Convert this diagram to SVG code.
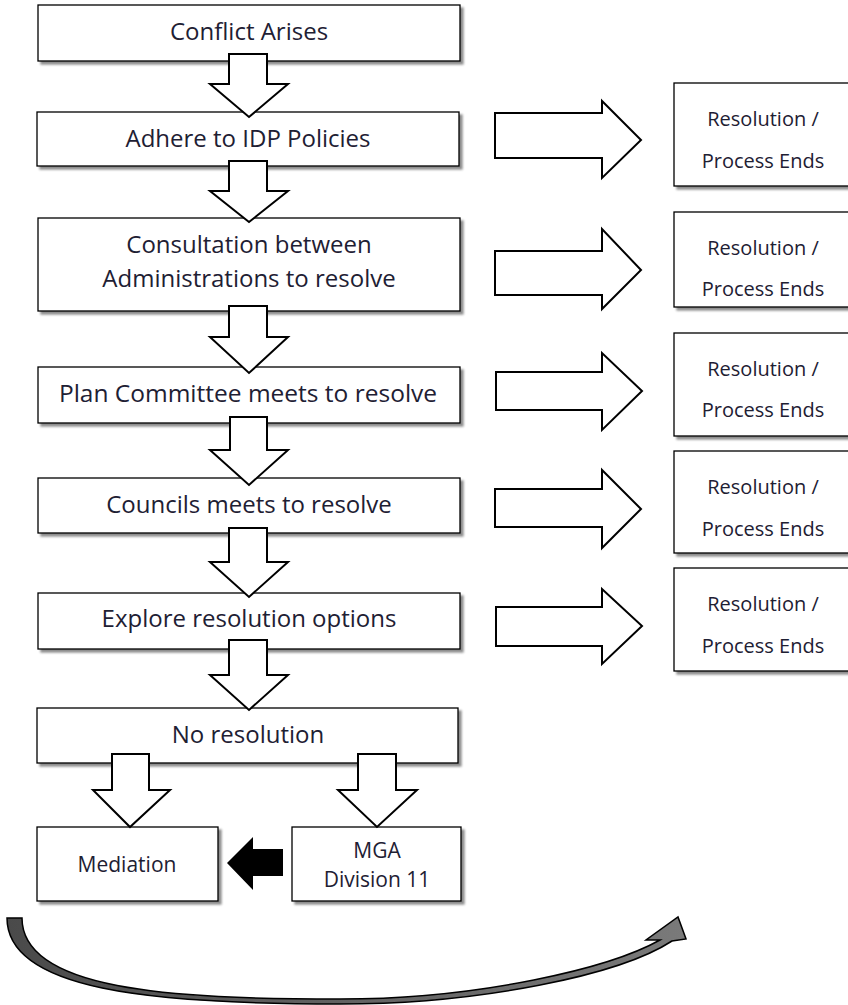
<svg xmlns="http://www.w3.org/2000/svg" width="848" height="1005" viewBox="0 0 848 1005">
<style>
.box{fill:#fff;stroke:#000;stroke-width:1.3;filter:url(#sh)}
.t{font-family:"Open Sans","Liberation Sans",sans-serif;font-size:24px;fill:#1e2033;text-anchor:middle}
.s{font-family:"Open Sans","Liberation Sans",sans-serif;font-size:20px;fill:#1e2033;text-anchor:middle}
.m{font-family:"Open Sans","Liberation Sans",sans-serif;font-size:21px;fill:#1e2033;text-anchor:middle}
.ar{fill:#fff;stroke:#000;stroke-width:2;stroke-linejoin:miter}
</style>
<defs>
<filter id="sh" x="-5%" y="-10%" width="115%" height="130%">
<feDropShadow dx="3" dy="3" stdDeviation="1" flood-color="#000" flood-opacity="0.45"/>
</filter>
<linearGradient id="cg" x1="0" y1="0" x2="1" y2="0">
<stop offset="0" stop-color="#4a4a4a"/>
<stop offset="1" stop-color="#7a7a7a"/>
</linearGradient>
</defs>

<g id="n1"><rect class="box" x="38" y="5" width="422" height="56"/><text class="t" x="249" y="40">Conflict Arises</text></g>
<g id="n2"><rect class="box" x="37" y="112" width="422" height="54"/><text class="t" x="248" y="147">Adhere to IDP Policies</text></g>
<g id="n3"><rect class="box" x="38" y="218" width="422" height="93"/><text class="t" x="249" y="253">Consultation between</text><text class="t" x="249" y="287">Administrations to resolve</text></g>
<g id="n4"><rect class="box" x="38" y="367" width="422" height="56"/><text class="t" x="248" y="402" style="font-size:24.5px">Plan Committee meets to resolve</text></g>
<g id="n5"><rect class="box" x="38" y="478" width="422" height="55"/><text class="t" x="249" y="513">Councils meets to resolve</text></g>
<g id="n6"><rect class="box" x="38" y="593" width="422" height="56"/><text class="t" x="249" y="627">Explore resolution options</text></g>
<g id="n7"><rect class="box" x="37" y="708" width="421" height="55"/><text class="t" x="248" y="743">No resolution</text></g>
<g id="n8"><rect class="box" x="37" y="827" width="181" height="74"/><text class="m" x="127" y="872">Mediation</text></g>
<g id="n9"><rect class="box" x="292" y="827" width="169" height="74"/><text class="m" x="377" y="858">MGA</text><text class="m" x="377" y="887">Division 11</text></g>

<g id="r1"><rect class="box" x="674" y="83" width="177" height="103"/><text class="s" x="763" y="126">Resolution /</text><text class="s" x="763" y="168">Process Ends</text></g>
<g id="r2"><rect class="box" x="674" y="212" width="177" height="95"/><text class="s" x="763" y="255">Resolution /</text><text class="s" x="763" y="296">Process Ends</text></g>
<g id="r3"><rect class="box" x="674" y="333" width="177" height="103"/><text class="s" x="763" y="376">Resolution /</text><text class="s" x="763" y="417">Process Ends</text></g>
<g id="r4"><rect class="box" x="674" y="451" width="177" height="102"/><text class="s" x="763" y="494">Resolution /</text><text class="s" x="763" y="536">Process Ends</text></g>
<g id="r5"><rect class="box" x="674" y="568" width="177" height="103"/><text class="s" x="763" y="611">Resolution /</text><text class="s" x="763" y="653">Process Ends</text></g>

<g id="connectors">
<polygon class="ar" points="229,54 267,54 267,84 288,84 249,117 210,84 229,84"/>
<polygon class="ar" points="229,161 267,161 267,191 288,191 249,222 210,191 229,191"/>
<polygon class="ar" points="229,306 267,306 267,337 288,337 249,373 210,337 229,337"/>
<polygon class="ar" points="230,417 267,417 267,450 288,450 249,485 210,450 230,450"/>
<polygon class="ar" points="229,528 267,528 267,562 288,562 249,597 210,562 229,562"/>
<polygon class="ar" points="229,640 267,640 267,675 288,675 249,710 210,675 229,675"/>
<polygon class="ar" points="112,754 149,754 149,790 170,790 130,827 93,790 112,790"/>
<polygon class="ar" points="358,754 396,754 396,790 417,790 377,827 338,790 358,790"/>
<polygon fill="#000" points="227,863 253,837 253,849 283,849 283,876 253,876 253,890"/>

<polygon class="ar" points="495,113 602,113 602,101 641,140 602,178 602,158 495,158"/>
<polygon class="ar" points="495,251 602,251 602,229 641,270 602,309 602,295 495,295"/>
<polygon class="ar" points="496,372 602,372 602,353 642,391 602,430 602,410 496,410"/>
<polygon class="ar" points="495,489 602,489 602,470 641,509 602,548 602,527 495,527"/>
<polygon class="ar" points="496,607 602,607 602,589 642,626 602,664 602,646 496,646"/>

<path d="M7,918 C7,990 150,1004 340,1004 C480,1004 620,975 672,941 L686,939 L678,917 L646,940 L660,940 C610,968 480,999 340,999 C170,999 22,990 22,918 Z" fill="url(#cg)" stroke="#000" stroke-width="1.5" stroke-linejoin="miter"/>
</g>
</svg>
